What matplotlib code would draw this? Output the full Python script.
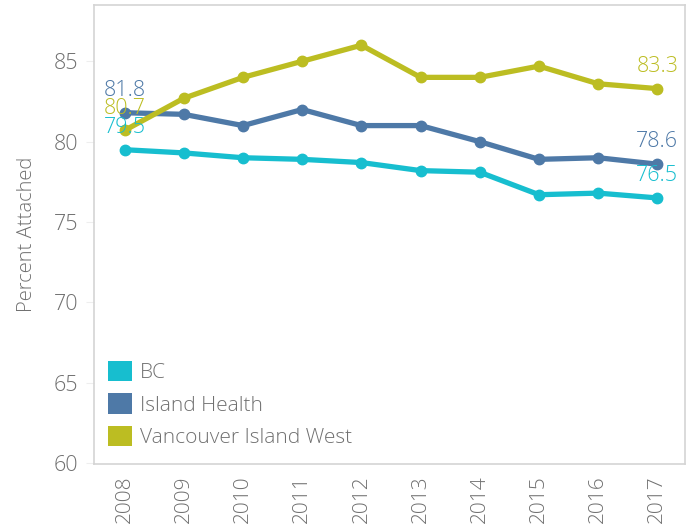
import matplotlib
matplotlib.use("Agg")
import matplotlib.pyplot as plt
from matplotlib.patches import Patch

plt.rcParams["font.family"] = ["Open Sans", "DejaVu Sans"]

years = [2008, 2009, 2010, 2011, 2012, 2013, 2014, 2015, 2016, 2017]

bc = [79.5, 79.3, 79.0, 78.9, 78.7, 78.2, 78.1, 76.7, 76.8, 76.5]
island_health = [81.8, 81.7, 81.0, 82.0, 81.0, 81.0, 80.0, 78.9, 79.0, 78.6]
vi_west = [80.7, 82.7, 84.0, 85.0, 86.0, 84.0, 84.0, 84.7, 83.6, 83.3]

series_names = ["BC", "Island Health", "Vancouver Island West"]
y_ticks = [60, 65, 70, 75, 80, 85]

colors = {
    "BC": "#17BECF",
    "Island Health": "#4E79A7",
    "Vancouver Island West": "#BCBD22"
}

text_gray = "#707070"
frame_gray = "#D4D4D4"

fig = plt.figure(figsize=(6.9, 5.27), dpi=100)
ax = fig.add_axes([0.136, 0.1195, 0.857, 0.871])

data = {
    "BC": bc,
    "Island Health": island_health,
    "Vancouver Island West": vi_west
}

for name in series_names:
    ax.plot(
        years,
        data[name],
        color=colors[name],
        linewidth=3.8,
        marker="o",
        markersize=7.5,
        solid_joinstyle="round",
        zorder=3
    )

# value labels on first and last point, same offset above the point
for name in series_names:
    for i in (0, -1):
        ax.annotate(
            f"{data[name][i]:.1f}",
            xy=(years[i], data[name][i]),
            xytext=(0, 16),
            textcoords="offset points",
            ha="center",
            va="center",
            fontsize=15.5,
            fontweight="light",
            color=colors[name],
            zorder=4
        )

ax.set_xlim(2007.48, 2017.47)
ax.set_ylim(59.95, 88.5)

ax.set_yticks(y_ticks)
ax.set_xticks(years)
ax.set_xticklabels([str(y) for y in years], rotation=90)

ax.tick_params(
    axis="y",
    length=6,
    width=0.8,
    color="#EEEEEE",
    labelsize=15.5,
    labelcolor=text_gray,
    pad=5
)
ax.tick_params(
    axis="x",
    length=0,
    labelsize=15,
    labelcolor=text_gray,
    pad=8
)
for lab in ax.get_xticklabels() + ax.get_yticklabels():
    lab.set_fontweight("light")

for spine in ax.spines.values():
    spine.set_color(frame_gray)
    spine.set_linewidth(1.2)

ax.set_ylabel(
    "Percent Attached",
    fontsize=14.5,
    fontweight="light",
    color=text_gray,
    labelpad=12
)

handles = [
    Patch(facecolor=colors[name], edgecolor="none", label=name)
    for name in series_names
]
leg = ax.legend(
    handles=handles,
    loc="lower left",
    bbox_to_anchor=(0.024, 0.035),
    frameon=False,
    prop={"size": 15, "weight": "light"},
    handlelength=1.15,
    handleheight=1.15,
    handletextpad=0.4,
    labelspacing=0.48,
    borderpad=0,
    borderaxespad=0
)
for t in leg.get_texts():
    t.set_color(text_gray)

fig.savefig("out.png", dpi=100)
